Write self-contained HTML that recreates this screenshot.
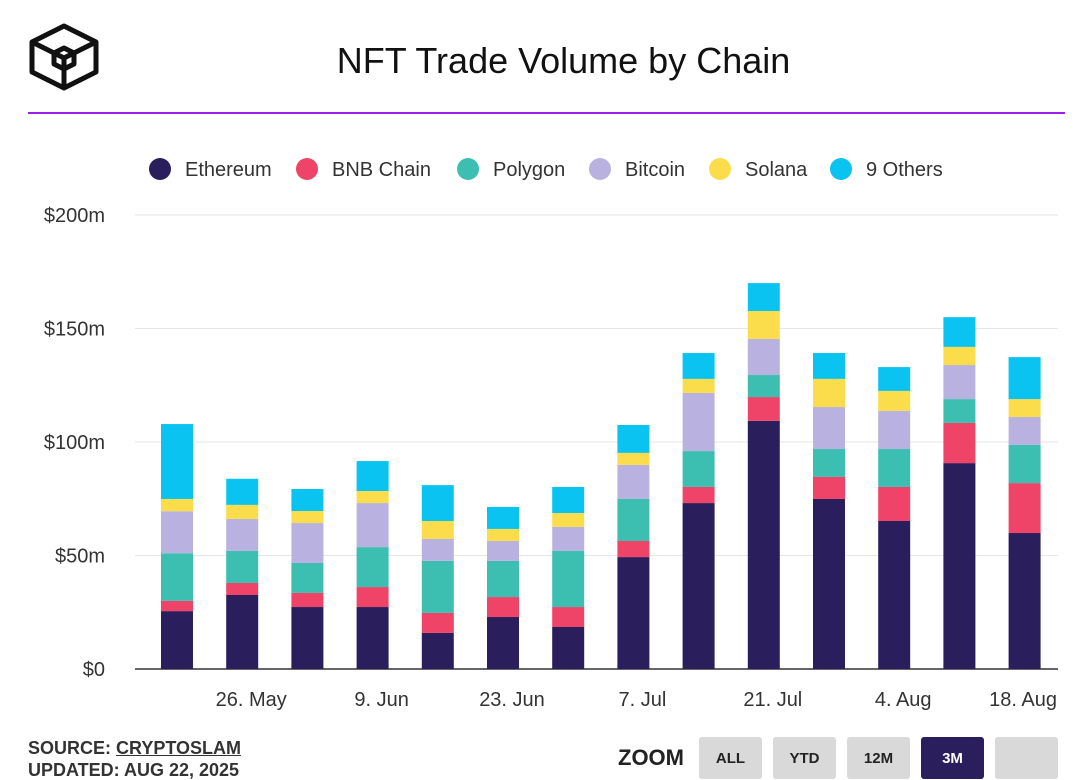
<!DOCTYPE html>
<html><head><meta charset="utf-8"><style>
body{margin:0;background:#fff;font-family:"Liberation Sans",sans-serif;}
#wrap{position:relative;width:1092px;height:780px;overflow:hidden;}
.btn{position:absolute;top:737px;width:63px;height:42px;background:#d9d9d9;border-radius:3px;font-weight:bold;font-size:15px;color:#222;text-align:center;line-height:44px;}
</style></head><body><div id="wrap">
<svg style="position:absolute;left:28px;top:22px" width="72" height="70" viewBox="0 0 72 70">
<g fill="none" stroke="#111" stroke-width="5" stroke-linejoin="round">
<polygon points="36,4 68,20 68,50 36,66 4,50 4,20"/><polyline points="4,20 36,36 68,20"/><line x1="36" y1="36" x2="36" y2="66"/>
<polygon points="36,26 46,31 46,42 36,47 26,42 26,31"/></g></svg>
<div style="position:absolute;left:0;width:1127px;top:40px;text-align:center;font-size:36px;color:#111">NFT Trade Volume by Chain</div>
<div style="position:absolute;left:28px;top:112px;width:1037px;height:2px;background:#9b1fe8"></div>
<svg id="chart" width="1092" height="780" style="position:absolute;left:0;top:0"></svg>
<div style="position:absolute;left:28px;top:737px;font-weight:bold;font-size:18px;color:#333;line-height:22px">SOURCE: <span style="text-decoration:underline">CRYPTOSLAM</span><br>UPDATED: AUG 22, 2025</div>
<div style="position:absolute;left:618px;top:745px;font-weight:bold;font-size:22px;color:#222">ZOOM</div>
<div class="btn" style="left:699px">ALL</div>
<div class="btn" style="left:773px">YTD</div>
<div class="btn" style="left:847px">12M</div>
<div class="btn" style="left:921px;background:#2a1f5c;color:#fff">3M</div>
<div class="btn" style="left:995px"></div>
</div>
<script>
const categories=["19. May","26. May","2. Jun","9. Jun","16. Jun","23. Jun","30. Jun","7. Jul","14. Jul","21. Jul","28. Jul","4. Aug","11. Aug","18. Aug"];
const seriesNames=["Ethereum","BNB Chain","Polygon","Bitcoin","Solana","9 Others"];
const ethereum=[25.5,32.6,27.3,27.3,15.9,22.9,18.5,49.3,73.1,109.3,74.9,65.2,90.7,59.9];
const bnb=[4.5,5.3,6.2,8.8,8.8,8.8,8.8,7.1,7.1,10.5,9.7,15,17.7,22];
const polygon=[21,14.1,13.2,17.6,22.9,15.9,24.7,18.5,15.8,9.7,12.3,16.7,10.5,16.8];
const bitcoin=[18.5,14.1,17.6,19.4,9.7,8.8,10.6,15,25.6,15.9,18.5,16.8,15,12.3];
const solana=[5.4,6.2,5.3,5.3,7.9,5.3,6.1,5.3,6.2,12.3,12.4,8.8,8,7.9];
const others=[33,11.5,9.7,13.2,15.8,9.7,11.5,12.3,11.4,12.3,11.4,10.5,13.1,18.5];
const yTicks=[0,50,100,150,200];
const yTickLabels=["$0","$50m","$100m","$150m","$200m"];
const xLabelIdx=[1,3,5,7,9,11,13];
const colors=["#2a1f5c","#ef4467","#3cbfb0","#b9b2e0","#fbdd4b","#0bc3f0"];
const series=[ethereum,bnb,polygon,bitcoin,solana,others];
const NS="http://www.w3.org/2000/svg";
const svg=document.getElementById('chart');
const y=v=>669-v*2.27;
const x=i=>177+i*65.2;
function mk(t,a){const e=document.createElementNS(NS,t);for(const k in a)e.setAttribute(k,a[k]);svg.appendChild(e);return e;}
yTicks.forEach((t,i)=>{
 const l=mk('line',{x1:135,x2:1058,y1:y(t),y2:y(t),stroke:t===0?'#333':'#e6e6e6','stroke-width':t===0?1.5:1});
 
 
 const tx=mk('text',{x:105,y:y(t)+7,'text-anchor':'end','font-size':20,fill:'#333','font-family':'Liberation Sans'});
 tx.textContent=yTickLabels[i];
 
 
});
categories.forEach((c,i)=>{
 let base=0;
 series.forEach((s,k)=>{
  const r=mk('rect',{x:x(i)-16,width:32,y:y(base+s[i]),height:s[i]*2.27,fill:colors[k]});
  
  
  base+=s[i];
 });
});
xLabelIdx.forEach(i=>{
 const last=i===categories.length-1;
 const t=mk('text',{x:last?1057:x(i)+9,y:706,'text-anchor':last?'end':'middle','font-size':20,fill:'#333','font-family':'Liberation Sans'});
 t.textContent=categories[i];
 
 
});
const legX=[160,307,468,600,720,841];
seriesNames.forEach((n,k)=>{
 const c=mk('circle',{cx:legX[k],cy:169,r:11,fill:colors[k]});
 
 
 const t=mk('text',{x:legX[k]+25,y:176,'font-size':20,fill:'#333','font-family':'Liberation Sans'});
 t.textContent=n;
 
 
});
</script></body></html>
